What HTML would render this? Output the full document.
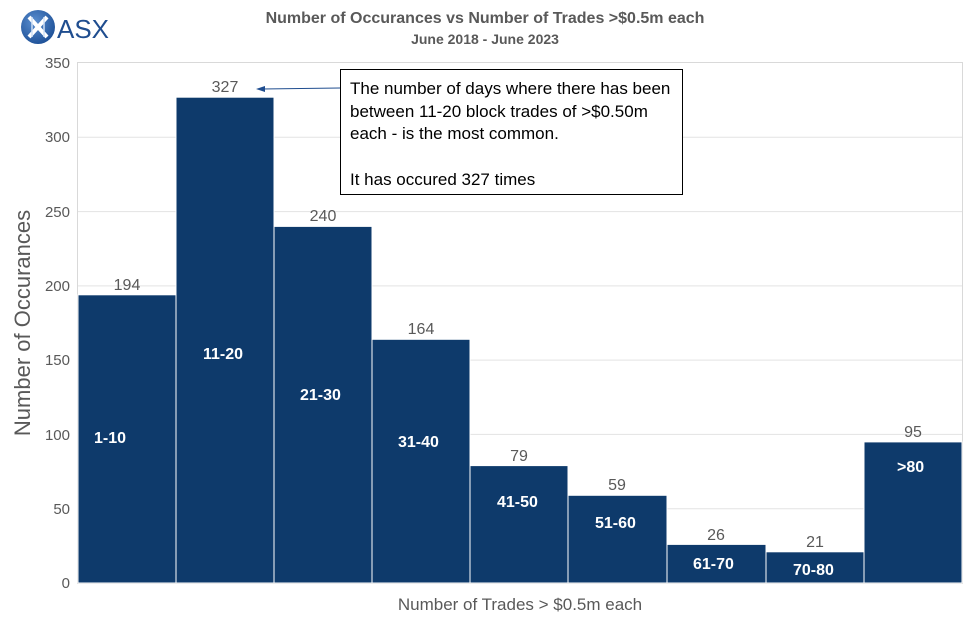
<!DOCTYPE html>
<html><head><style>
body{margin:0;background:#fff;}
svg text{font-family:"Liberation Sans",sans-serif;}
</style></head><body>
<svg width="968" height="617" xmlns="http://www.w3.org/2000/svg">
<rect width="968" height="617" fill="#fff"/>
<defs><radialGradient id="g" cx="0.4" cy="0.35" r="0.7"><stop offset="0" stop-color="#5b8fd0"/><stop offset="1" stop-color="#1c4f96"/></radialGradient></defs>
<circle cx="38" cy="27" r="17" fill="url(#g)"/>
<path d="M29 17 L47 37 M47 17 L29 37" stroke="#fff" stroke-width="4"/>
<path d="M32 17 L32 37 M44 17 L44 37" stroke="#cfe0f5" stroke-width="1.5"/>
<text x="57" y="38" font-size="26" fill="#1f4d8f">ASX</text>
<text x="485" y="23" font-size="16" font-weight="bold" fill="#595959" text-anchor="middle">Number of Occurances vs Number of Trades  &gt;$0.5m each</text>
<text x="485" y="44" font-size="14" font-weight="bold" fill="#595959" text-anchor="middle">June  2018 - June 2023</text>
<rect x="77.5" y="62.5" width="885" height="521" fill="none" stroke="#d9d9d9"/>
<g stroke="#e3e3e3">
<line x1="78" x2="962" y1="508.7" y2="508.7"/><line x1="78" x2="962" y1="434.4" y2="434.4"/>
<line x1="78" x2="962" y1="360.1" y2="360.1"/><line x1="78" x2="962" y1="285.9" y2="285.9"/>
<line x1="78" x2="962" y1="211.6" y2="211.6"/><line x1="78" x2="962" y1="137.3" y2="137.3"/>
</g>
<g font-size="15" fill="#595959" text-anchor="end">
<text x="70" y="588">0</text><text x="70" y="514">50</text><text x="70" y="440">100</text>
<text x="70" y="365">150</text><text x="70" y="291">200</text><text x="70" y="217">250</text>
<text x="70" y="142">300</text><text x="70" y="68">350</text>
</g>
<text transform="translate(30,323) rotate(-90)" font-size="22" fill="#595959" text-anchor="middle">Number of Occurances</text>
<text x="520" y="610" font-size="17" fill="#595959" text-anchor="middle">Number of Trades &gt; $0.5m each</text>
<g fill="#0e3a6b" stroke="#fff" stroke-width="1">
<rect x="78" y="294.8" width="98" height="288.2"/>
<rect x="176" y="97.2" width="98" height="485.8"/>
<rect x="274" y="226.4" width="98" height="356.6"/>
<rect x="372" y="339.3" width="98" height="243.7"/>
<rect x="470" y="465.6" width="98" height="117.4"/>
<rect x="568" y="495.3" width="99" height="87.7"/>
<rect x="667" y="544.4" width="99" height="38.6"/>
<rect x="766" y="551.8" width="98" height="31.2"/>
<rect x="864" y="441.9" width="98" height="141.1"/>
</g>
<g font-size="16" fill="#595959" text-anchor="middle">
<text x="127" y="290">194</text><text x="225" y="92">327</text><text x="323" y="221">240</text>
<text x="421" y="334">164</text><text x="519" y="461">79</text><text x="617" y="490">59</text>
<text x="716" y="540">26</text><text x="815" y="547">21</text><text x="913" y="437">95</text>
</g>
<g font-size="16" font-weight="bold" fill="#fff">
<text x="94" y="443">1-10</text><text x="203" y="359">11-20</text><text x="300" y="400">21-30</text>
<text x="398" y="447">31-40</text><text x="497" y="507">41-50</text><text x="595" y="528">51-60</text>
<text x="693" y="569">61-70</text><text x="793" y="575">70-80</text><text x="897" y="472">&gt;80</text>
</g>
<line x1="340" y1="88" x2="262" y2="89" stroke="#1f4d8f" stroke-width="1"/>
<polygon points="256,89 265,86 265,92" fill="#1f4d8f"/>
<rect x="340.5" y="69.5" width="342" height="125" fill="#fff" stroke="#000"/>
<g font-size="17" fill="#000">
<text x="350" y="94">The number of days where there has been</text>
<text x="350" y="117">between 11-20 block trades of &gt;$0.50m</text>
<text x="350" y="139">each - is the most common.</text>
<text x="350" y="185">It has occured 327 times</text>
</g>
</svg>
</body></html>
